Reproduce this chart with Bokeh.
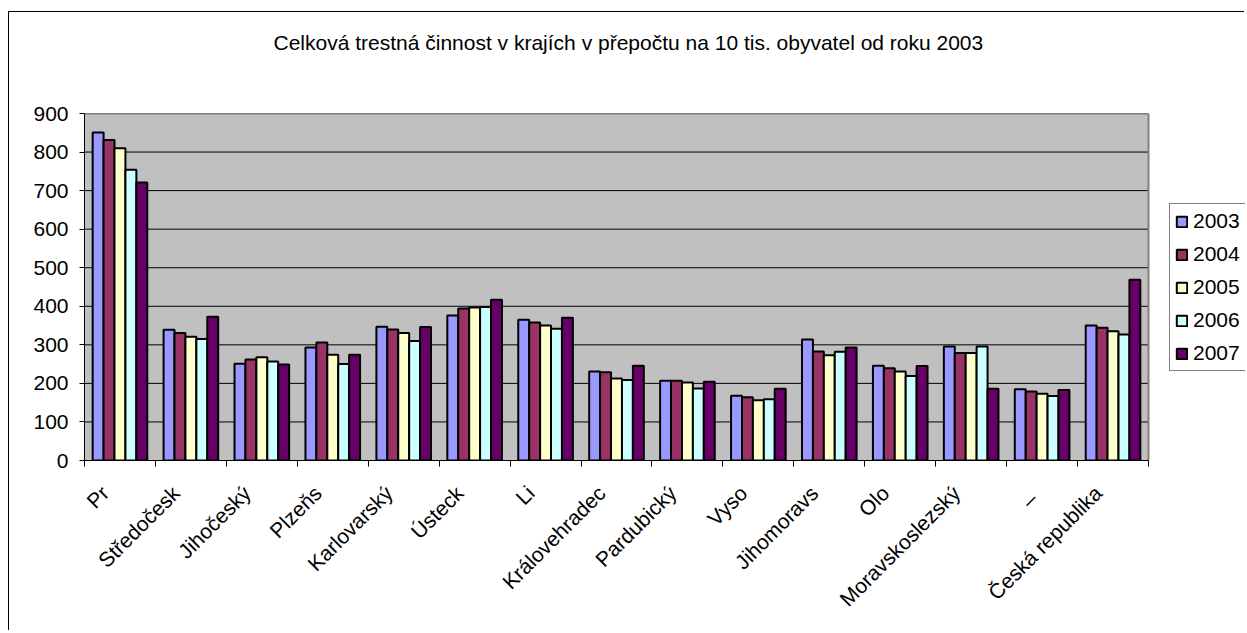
import math
from bokeh.plotting import figure
from bokeh.models import Range1d, FixedTicker, Legend, LegendItem, Title
from bokeh.embed import file_html
from bokeh.resources import INLINE

title_text = "Celková trestná činnost v krajích v přepočtu na 10 tis. obyvatel od roku 2003"
categories = ["Pr", "Středočesk", "Jihočeský", "Plzeňs", "Karlovarský", "Ústeck", "Li",
              "Královehradec", "Pardubický", "Vyso", "Jihomoravs", "Olo",
              "Moravskoslezský", "_", "Česká republika"]
years = ["2003", "2004", "2005", "2006", "2007"]
v2003 = [851, 339, 251, 293, 347, 376, 365, 231, 207, 168, 314, 246, 296, 185, 350]
v2004 = [831, 331, 262, 306, 340, 394, 358, 229, 207, 164, 283, 239, 279, 179, 344]
v2005 = [810, 321, 268, 274, 331, 397, 350, 213, 202, 156, 273, 231, 279, 173, 335]
v2006 = [754, 315, 257, 250, 310, 398, 342, 209, 187, 159, 282, 219, 296, 167, 327]
v2007 = [721, 373, 249, 274, 346, 417, 370, 246, 204, 186, 293, 245, 186, 183, 469]
series = [v2003, v2004, v2005, v2006, v2007]
colors = ["#9999FF", "#993366", "#FFFFCC", "#CCFFFF", "#660066"]
y_ticks = [0, 100, 200, 300, 400, 500, 600, 700, 800, 900]

FONT = "Liberation Sans"
FS = "21px"
n = len(categories)
ymax = y_ticks[-1]
bw = 0.154

W, H = 1236, 619
LEFT, TOP, BOTTOM = 75, 101, 171
PLOT_W = 1064                        # pixel width of the category area
frame_w = W - LEFT
x_end = n * frame_w / PLOT_W         # frame also hosts the legend on the right

p = figure(width=W, height=H, output_backend="svg", toolbar_location=None,
           title=None,
           x_range=Range1d(0, x_end), y_range=Range1d(0, ymax),
           min_border_left=LEFT, min_border_right=0, min_border_top=TOP,
           min_border_bottom=BOTTOM)
p.styles = {"border-left": "1px solid black", "border-top": "1px solid black",
            "margin-left": "8px", "margin-top": "11px"}

# spacer between plot area and title, then the title itself
p.add_layout(Title(text=" ", text_font=FONT, text_font_size=FS, standoff=35), "above")
p.add_layout(Title(text=title_text, align="left", offset=189, standoff=0,
                   text_font=FONT, text_font_size=FS, text_font_style="normal",
                   text_color="black"), "above")

p.background_fill_color = "white"
p.border_fill_color = "white"
p.outline_line_color = None
p.xgrid.grid_line_color = None
p.ygrid.grid_line_color = None

# plot area (grey) + grid lines + plot area border
bg = p.quad(left=0, right=n, bottom=0, top=ymax, fill_color="#C0C0C0", line_color=None)
p.segment(x0=[0] * len(y_ticks), x1=[n] * len(y_ticks), y0=y_ticks, y1=y_ticks,
          line_color="black", line_width=1)
p.segment(x0=[0, n], x1=[n, n], y0=[ymax, 0], y1=[ymax, ymax],
          line_color="#808080", line_width=2)

renderers = []
for k, vals in enumerate(series):
    xs = [i + 0.5 + (k - 2) * bw for i in range(n)]
    r = p.vbar(x=xs, top=vals, bottom=0, width=bw, fill_color=colors[k],
               line_color="black", line_width=2)
    renderers.append(r)

# y axis
p.yaxis.ticker = FixedTicker(ticks=y_ticks, minor_ticks=[])
p.yaxis.axis_line_color = "black"
p.yaxis.major_tick_line_color = "black"
p.yaxis.major_tick_out = 5
p.yaxis.major_tick_in = 0
p.yaxis.minor_tick_line_color = None
p.yaxis.major_label_text_font = FONT
p.yaxis.major_label_text_font_size = FS
p.yaxis.major_label_text_color = "black"
p.yaxis.major_label_standoff = 11

# x axis: boundary ticks as minor ticks, labels on (slightly shifted) major ticks
label_pos = [i + 0.29 for i in range(n)]
p.xaxis.bounds = (0, n)
p.xaxis.ticker = FixedTicker(ticks=label_pos, minor_ticks=list(range(n + 1)))
p.xaxis.major_label_overrides = {label_pos[i]: categories[i] for i in range(n)}
p.xaxis.axis_line_color = "black"
p.xaxis.major_tick_line_color = None
p.xaxis.major_tick_out = 6
p.xaxis.minor_tick_line_color = "black"
p.xaxis.minor_tick_out = 6
p.xaxis.minor_tick_in = 0
p.xaxis.major_label_orientation = math.pi / 4
p.xaxis.major_label_text_font = FONT
p.xaxis.major_label_text_font_size = FS
p.xaxis.major_label_text_color = "black"
p.xaxis.major_label_standoff = 23

legend = Legend(items=[LegendItem(label=years[k], renderers=[renderers[k]]) for k in range(5)],
                location=(PLOT_W + 21, 89))
legend.border_line_color = "black"
legend.border_line_width = 1
legend.background_fill_color = "white"
legend.background_fill_alpha = 1
legend.padding = 5
legend.spacing = 9
legend.margin = 0
legend.label_height = 20
legend.glyph_width = 13
legend.glyph_height = 13
legend.label_standoff = 5
legend.label_text_font = FONT
legend.label_text_font_size = FS
legend.label_text_color = "black"
p.add_layout(legend, "center")

open("out.html", "w").write(file_html(p, INLINE))
